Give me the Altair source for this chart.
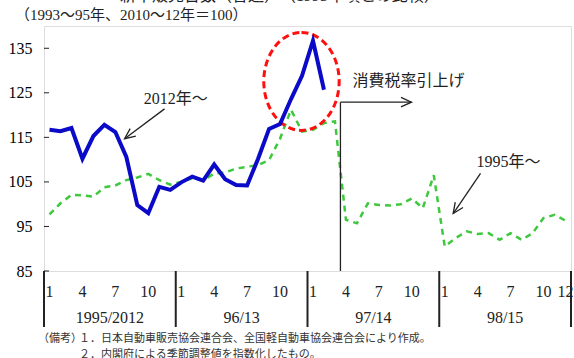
import altair as alt
import pandas as pd

# ---- data -------------------------------------------------------------
year_labels = ["1995/2012", "96/13", "97/14", "98/15"]
month_ticks = [1, 4, 7, 10]
y_ticks = [85, 95, 105, 115, 125, 135]

# monthly index, 2012 Jan onward (seasonally adjusted, 2010-12 = 100)
sales_2012 = [116.7, 116.4, 117.1, 110.2, 115.3, 117.8, 116.2, 110.6, 99.8, 98.0, 103.9, 103.2,
              104.9, 106.2, 105.3, 108.9, 105.6, 104.3, 104.2, 110.2, 116.9, 118.0, 123.6, 128.8,
              136.7, 125.7]

# monthly index, 1995 Jan onward (1993-95 = 100)
sales_1995 = [97.7, 100.2, 102.1, 102.0, 101.7, 103.8, 104.2, 105.4, 106.0, 106.8, 105.4, 104.4,
              105.0, 105.8, 105.3, 106.9, 107.1, 108.0, 108.4, 108.8, 109.9, 114.7, 121.2, 116.3,
              116.7, 118.2, 118.6, 96.5, 95.7, 100.2, 99.8, 99.7, 100.0, 101.3, 99.1, 106.5,
              90.5, 92.4, 93.9, 93.3, 93.5, 92.0, 93.5, 92.0, 93.5, 96.9, 97.6, 96.3]

# ---- layout constants ---------------------------------------------------
W, H = 527, 245
FONT = "'Liberation Serif', 'Noto Sans CJK JP', serif"
JP = "'Noto Sans CJK JP', sans-serif"
INK = "#222222"

xs = alt.Scale(domain=[-0.5, 47.5], nice=False, zero=False)
ys = alt.Scale(domain=[85, 140], nice=False, zero=False)
yax = alt.Axis(values=y_ticks, title=None, grid=False, ticks=False, domain=False,
               labelFont=FONT, labelFontSize=16, labelColor="black", labelPadding=12)


def X(field):
    return alt.X(field, type="quantitative", scale=xs, axis=None)


def Y(field):
    return alt.Y(field, type="quantitative", scale=ys, axis=yax)


# ---- series -------------------------------------------------------------
df_2012 = pd.DataFrame({"i": range(len(sales_2012)), "v": sales_2012})
df_1995 = pd.DataFrame({"i": range(len(sales_1995)), "v": sales_1995})

line_1995 = alt.Chart(df_1995).mark_line(
    color="#3DC83D", strokeWidth=2.5, strokeDash=[6, 5]
).encode(x=X("i"), y=Y("v"))

line_2012 = alt.Chart(df_2012).mark_line(
    color="#0A0AC8", strokeWidth=4
).encode(x=X("i"), y=Y("v"))

# inward ticks on the value axis
tick_df = pd.DataFrame({"v": y_ticks})
y_tick_marks = alt.Chart(tick_df).mark_rule(color=INK, strokeWidth=1).encode(
    y=Y("v"), x=alt.value(0), x2=alt.value(5)
)

# ---- annotations --------------------------------------------------------
# dashed ellipse around the latest months (drawn as a custom symbol)
a, k = 0.769, 0.5523
ellipse_path = (
    f"M 0 -1 C {k*a:.4f} -1 {a} {-k} {a} 0 "
    f"C {a} {k} {k*a:.4f} 1 0 1 "
    f"C {-k*a:.4f} 1 {-a} {k} {-a} 0 "
    f"C {-a} {-k} {-k*a:.4f} -1 0 -1 Z"
)
ellipse = alt.Chart(pd.DataFrame({"i": [22.95], "v": [127.55]})).mark_point(
    shape=ellipse_path, size=9604, filled=False, color="#FF1010",
    strokeWidth=3, strokeDash=[7, 4], opacity=1
).encode(x=X("i"), y=Y("v"))

# arrow shafts
seg_df = pd.DataFrame({
    "x1": [10.48, 39.26, 26.5, 26.5],
    "y1": [121.4, 106.9, 85.0, 122.9],
    "x2": [6.84, 36.77, 26.5, 32.97],
    "y2": [114.7, 97.9, 122.9, 122.9],
})
shafts = alt.Chart(seg_df).mark_rule(color=INK, strokeWidth=1.3).encode(
    x=X("x1"), y=Y("y1"), x2="x2", y2="y2"
)

# open arrow heads
chevron = "M -1 -0.45 L 0 0 L -1 0.45"
head_df = pd.DataFrame({
    "x": [6.84, 36.77, 32.97],
    "y": [114.7, 97.9, 122.9],
    "ang": [143.1, 124.4, 0.0],
})
heads = alt.Chart(head_df).mark_point(
    shape=chevron, size=440, filled=False, color=INK, strokeWidth=1.3, opacity=1
).encode(x=X("x"), y=Y("y"), angle=alt.Angle("ang:Q", scale=None))

label_df = pd.DataFrame({
    "x": [11.49, 41.8],
    "y": [123.7, 109.4],
    "t": ["2012年～", "1995年～"],
})
series_labels = alt.Chart(label_df).mark_text(
    font=FONT, fontSize=16, color=INK
).encode(x=X("x"), y=Y("y"), text="t:N")

tax_label = alt.Chart(pd.DataFrame({"x": [27.6], "y": [127.7], "t": ["消費税率引上げ"]})).mark_text(
    font=FONT, fontSize=16, color=INK, align="left"
).encode(x=X("x"), y=Y("y"), text="t:N")

# ---- category axis drawn beneath the frame -------------------------------
month_rows = []
for yi in range(len(year_labels)):
    ms = month_ticks + ([12] if yi == len(year_labels) - 1 else [])
    for m in ms:
        month_rows.append({"i": yi * 12 + m - 1, "t": str(m)})
month_df = pd.DataFrame(month_rows)
month_text = alt.Chart(month_df).mark_text(
    font=FONT, fontSize=16, color=INK
).encode(x=X("i"), y=alt.value(H + 21), text="t:N")

year_df = pd.DataFrame({"c": [yi * 12 + 5.5 for yi in range(len(year_labels))], "t": year_labels})
year_text = alt.Chart(year_df).mark_text(
    font=FONT, fontSize=16, color=INK
).encode(x=X("c"), y=alt.value(H + 47), text="t:N")

div_df = pd.DataFrame({"b": [yi * 12 - 0.5 for yi in range(len(year_labels) + 1)]})
dividers = alt.Chart(div_df).mark_rule(color=INK, strokeWidth=2).encode(
    x=X("b"), y=alt.value(H), y2=alt.value(H + 56)
)

# ---- titles and notes ---------------------------------------------------
one = pd.DataFrame({"k": [0]})


def free_text(text, x, y, size, align="left", baseline="middle", font=FONT, color=INK):
    return alt.Chart(one).mark_text(
        text=text, font=font, fontSize=size, align=align, baseline=baseline, color=color
    ).encode(x=alt.value(x), y=alt.value(y))


title = free_text("新車販売台数（普通）　（1995年頃との比較）", 76, -22, 16, baseline="bottom")
unit = free_text("（1993～95年、2010～12年＝100）", -29, -11, 15)
note0 = free_text("（備考）", -6, H + 68, 11, font=JP, color="#333333")
note1 = free_text("１．日本自動車販売協会連合会、全国軽自動車協会連合会により作成。", 35, H + 68, 11,
                  font=JP, color="#333333")
note2 = free_text("２．内閣府による季節調整値を指数化したもの。", 35, H + 84, 11,
                  font=JP, color="#333333")

chart = alt.layer(
    line_1995, ellipse, line_2012, y_tick_marks, shafts, heads, series_labels, tax_label,
    month_text, year_text, dividers, title, unit, note0, note1, note2,
).properties(
    width=W, height=H,
    autosize=alt.AutoSizeParams(type="none"),
    padding={"left": 44, "top": 26, "right": 3, "bottom": 87},
).configure_view(
    stroke="black", strokeWidth=2.5
).configure(background="white")

chart.save("out.html", embed_options={"renderer": "svg", "actions": False})
